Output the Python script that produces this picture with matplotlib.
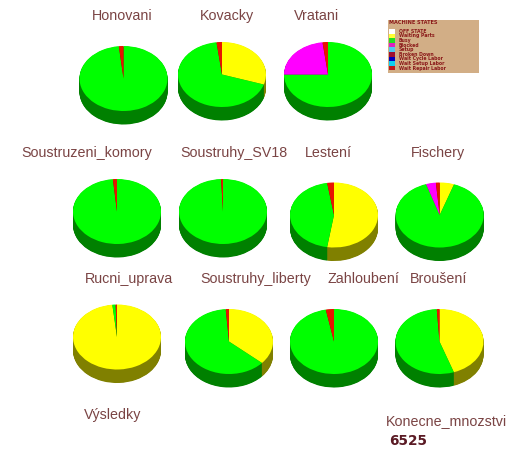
import matplotlib
matplotlib.use('Agg')
import matplotlib.pyplot as plt
from matplotlib.patches import Rectangle

W, H = 509, 453

# shares per station, clockwise from 12 o'clock
honovani = [98.3, 1.7]
honovani_c = ['green', 'red']
kovacky = [30, 68, 2]
kovacky_c = ['yellow', 'green', 'red']
vratani = [75, 23, 2]
vratani_c = ['green', 'magenta', 'red']
komory = [98.5, 1.5]
komory_c = ['green', 'red']
sv18 = [99.3, 0.7]
sv18_c = ['green', 'red']
lesteni = [52.5, 45, 2.5]
lesteni_c = ['yellow', 'green', 'red']
fischery = [5.3, 89.7, 3.6, 1.4]
fischery_c = ['yellow', 'green', 'magenta', 'red']
rucni = [98.3, 1.2, 0.5]
rucni_c = ['yellow', 'green', 'red']
liberty = [36.5, 62.3, 1.2]
liberty_c = ['yellow', 'green', 'red']
zahloubeni = [97, 3]
zahloubeni_c = ['green', 'red']
brouseni = [44.7, 54.3, 1]
brouseni_c = ['yellow', 'green', 'red']

top_colors = {'green': '#00ff00', 'yellow': '#ffff00', 'magenta': '#ff00ff', 'red': '#e81400'}
side_colors = {'green': '#008000', 'yellow': '#808000', 'magenta': '#800080', 'red': '#800000'}

legend_title = 'MACHINE STATES'
legend_states = ['OFF STATE', 'Waiting Parts', 'Busy', 'Blocked', 'Setup',
                 'Broken Down', 'Wait Cycle Labor', 'Wait Setup Labor', 'Wait Repair Labor']
legend_colors = ['#ffffff', '#ffff33', '#22dd22', '#e020c0', '#50c8f0',
                 '#a01030', '#0000c0', '#10d0f0', '#c01818']

# pie centres in pixels
pies = [
    (123.5, 78.5, honovani, honovani_c),
    (222, 74.5, kovacky, kovacky_c),
    (328, 74.5, vratani, vratani_c),
    (117, 211.5, komory, komory_c),
    (223, 211.5, sv18, sv18_c),
    (334, 215, lesteni, lesteni_c),
    (439.7, 215, fischery, fischery_c),
    (117, 337, rucni, rucni_c),
    (229, 341.5, liberty, liberty_c),
    (334, 341.5, zahloubeni, zahloubeni_c),
    (439.5, 341.5, brouseni, brouseni_c),
]

labels = [
    ('Honovani', 122, 16), ('Kovacky', 227, 16), ('Vratani', 317, 16),
    ('Soustruzeni_komory', 86.5, 153), ('Soustruhy_SV18', 233.5, 153),
    ('Lestení', 328, 153), ('Fischery', 437.5, 153),
    ('Rucni_uprava', 129, 279), ('Soustruhy_liberty', 255.5, 279),
    ('Zahloubení', 363.5, 279), ('Broušení', 439, 279),
    ('Výsledky', 112.5, 415), ('Konecne_mnozstvi', 446.5, 421),
]

RX, RY, DEPTH = 44, 32.5, 13.5

plt.rcParams['font.family'] = ['Liberation Sans', 'DejaVu Sans']
fig = plt.figure(figsize=(W / 100, H / 100), dpi=100, facecolor='white')

# full-figure axes in pixel units for the text and the legend box
bg = fig.add_axes([0, 0, 1, 1])
bg.set_xlim(0, W)
bg.set_ylim(H, 0)
bg.axis('off')


def draw_pie(cx, cy, values, states):
    pad = 1
    left = (cx - RX - pad) / W
    bottom = 1 - (cy + RY + DEPTH + pad) / H
    ax = fig.add_axes([left, bottom, (2 * RX + 2 * pad) / W, (2 * RY + DEPTH + 2 * pad) / H])
    # the rim is a stack of darker pies, the top face goes on last
    for d in range(int(DEPTH * 2), 0, -1):
        off = -d / 2 / RY
        ax.pie(values, colors=[side_colors[s] for s in states], startangle=90,
               counterclock=False, center=(0, off), wedgeprops={'linewidth': 0})
    ax.pie(values, colors=[top_colors[s] for s in states], startangle=90,
           counterclock=False, wedgeprops={'linewidth': 0})
    ax.set_aspect('auto')
    ax.set_xlim(-1 - pad / RX, 1 + pad / RX)
    ax.set_ylim(-1 - (DEPTH + pad) / RY, 1 + pad / RY)
    ax.axis('off')


for cx, cy, values, states in pies:
    draw_pie(cx, cy, values, states)

for text, x, y in labels:
    bg.text(x, y, text, fontsize=10.3, color='#7a4444', ha='center', va='center')

bg.text(389, 441, '6525', fontsize=9.8, fontweight='bold', color='#5a1a24',
        family='DejaVu Sans', ha='left', va='center')

# legend panel
bg.add_patch(Rectangle((388, 20), 91, 53, facecolor='#d2ae86', edgecolor='none'))
bg.text(389, 22.5, legend_title, fontsize=3.6, fontweight='bold', color='#8b1a1a',
        family='DejaVu Sans', ha='left', va='center')
for i, (state, col) in enumerate(zip(legend_states, legend_colors)):
    y = 29 + i * 4.6
    bg.add_patch(Rectangle((389, y), 6, 4.6, facecolor=col, edgecolor='none'))
    bg.text(399, y + 2.3, state, fontsize=3.3, fontweight='bold', color='#8b1a1a',
            family='DejaVu Sans', ha='left', va='center')

fig.savefig('out.png', dpi=100)
